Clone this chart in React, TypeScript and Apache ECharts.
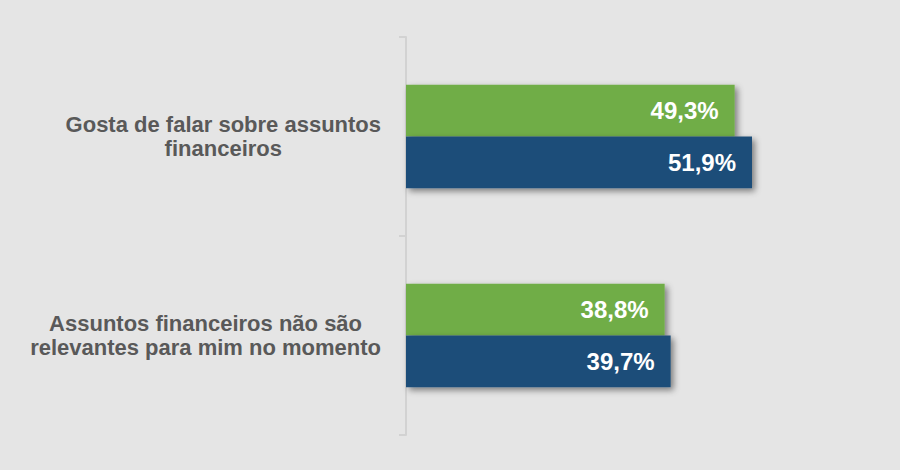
import React, { useEffect, useRef } from "react";
import * as echarts from "echarts";

const categories = [
  "Gosta de falar sobre assuntos financeiros",
  "Assuntos financeiros não são relevantes para mim no momento",
];
const greenValues = [49.3, 38.8];
const blueValues = [51.9, 39.7];

function wrap(text: string, maxChars: number): string {
  const words = text.split(" ");
  const lines: string[] = [];
  let cur = "";
  for (const w of words) {
    const next = cur ? cur + " " + w : w;
    if (next.length > maxChars && cur) {
      lines.push(cur);
      cur = w;
    } else {
      cur = next;
    }
  }
  if (cur) lines.push(cur);
  return lines.map((l) => "{c|" + l + "}").join("\n");
}

const fmt = (v: number) => v.toFixed(1).replace(".", ",") + "%";

export default function App() {
  const ref = useRef<HTMLDivElement>(null);
  useEffect(() => {
    if (!ref.current) return;
    const chart = echarts.init(ref.current, undefined, { renderer: "svg" });
    const labelStyle = {
      show: true,
      position: "insideRight" as const,
      distance: 16,
      color: "#ffffff",
      fontSize: 24,
      fontWeight: "bold" as const,
      fontFamily: "Liberation Sans, Arial, sans-serif",
      formatter: (p: any) => fmt(p.value),
    };
    const shadow = {
      shadowColor: "rgba(0,0,0,0.45)",
      shadowBlur: 6,
      shadowOffsetX: 3,
      shadowOffsetY: 3,
    };
    chart.setOption({
      animation: false,
      backgroundColor: "#e5e5e5",
      grid: { left: 406, right: 94, top: 37, bottom: 35, containLabel: false },
      xAxis: {
        type: "value",
        min: 0,
        max: 60,
        show: false,
      },
      yAxis: {
        type: "category",
        inverse: true,
        data: categories,
        axisLine: { show: true, lineStyle: { color: "#d2d2d2", width: 2 } },
        axisTick: { show: true, length: 7, lineStyle: { color: "#d2d2d2", width: 2 } },
        axisLabel: {
          margin: 25,
          formatter: (v: string) => wrap(v, 30),
          rich: {
            c: {
              align: "center",
              color: "#595959",
              fontSize: 22,
              fontWeight: "bold",
              lineHeight: 24,
              fontFamily: "Liberation Sans, Arial, sans-serif",
            },
          },
        },
        splitLine: { show: false },
      },
      series: [
        {
          type: "bar",
          data: greenValues,
          barGap: "0%",
          barCategoryGap: "48%",
          itemStyle: { color: "#70ad47", ...shadow },
          label: labelStyle,
          z: 2,
        },
        {
          type: "bar",
          data: blueValues,
          itemStyle: { color: "#1f4e79", ...shadow },
          label: labelStyle,
          z: 3,
        },
      ],
    });
    return () => chart.dispose();
  }, []);
  return (
    <div
      ref={ref}
      style={{ width: 900, height: 470, position: "fixed", left: 0, top: 0 }}
    />
  );
}
